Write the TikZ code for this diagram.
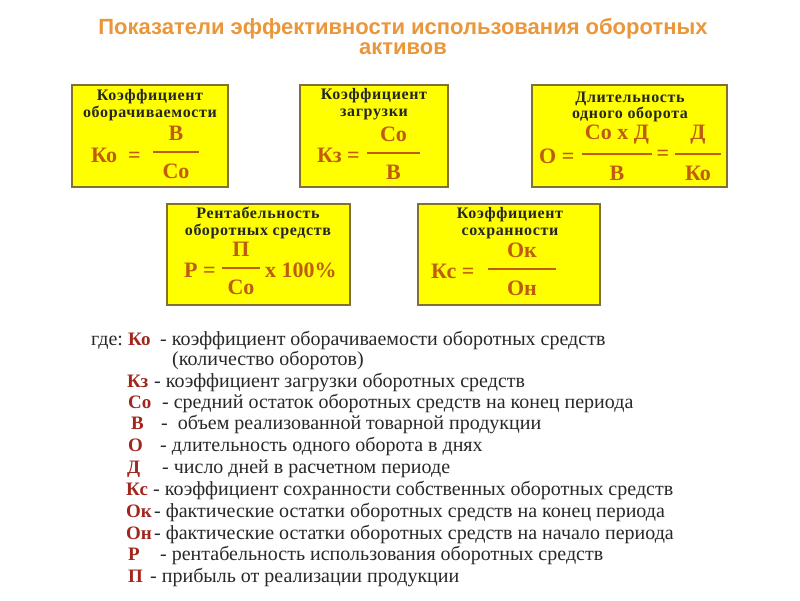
\documentclass[tikz,border=0pt]{standalone}
\usepackage{fontspec}
\setmainfont{Liberation Serif}
\newfontfamily\titlefont{Liberation Sans}
\newfontfamily\legendfont{Liberation Serif}
\newfontfamily\headfont[LetterSpace=4]{Liberation Serif}
\usetikzlibrary{positioning}
\definecolor{titleorange}{RGB}{234,150,58}
\definecolor{boxyellow}{RGB}{255,255,0}
\definecolor{boxedge}{RGB}{130,112,50}
\definecolor{formulabrown}{RGB}{192,92,14}
\definecolor{symred}{RGB}{160,38,30}
\definecolor{legendgray}{RGB}{40,40,40}
\tikzstyle{kbox}=[draw=boxedge,line width=1.4pt,fill=boxyellow]
\tikzstyle{khead}=[inner sep=0pt,align=center,font=\headfont\fontsize{16}{16.5}\selectfont\bfseries,text=black!85]
\tikzstyle{formula}=[inner sep=0pt,font=\rmfamily\fontsize{22}{24}\selectfont\bfseries,text=formulabrown]
\tikzstyle{fracbar}=[formulabrown,line width=1.1pt]
\tikzstyle{legsym}=[inner sep=0pt,anchor=base west,font=\legendfont\fontsize{19}{21}\selectfont\bfseries,text=symred]
\tikzstyle{legtext}=[inner sep=0pt,anchor=base west,font=\legendfont\fontsize{20}{21}\selectfont,text=legendgray]
\newcommand{\drawfrac}[6]{
% name, left x, right x, bar y, numerator, denominator
\pgfmathsetmacro{\xm}{(#2+#3)/2}
\coordinate (#1l) at (#2,#4);
\coordinate (#1r) at (#3,#4);
\draw[fracbar] (#1l) -- (#1r);
\node[formula] (#1n) at (\xm,#4-19) {#5};
\node[formula] (#1d) at (\xm,#4+19) {#6};
}
\begin{document}
\begin{tikzpicture}[x=1pt,y=-1pt]
\useasboundingbox (0,0) rectangle (800,600);
% title
\node[inner sep=0pt,align=center,text=titleorange,font=\titlefont\fontsize{22}{20}\selectfont\bfseries] (title) at (403,37) {Показатели эффективности использования оборотных\\активов};
% boxes, top row
\path[kbox] (72,85) rectangle (228,187) coordinate (kobox);
\path[kbox] (300,85) rectangle (448,187) coordinate (kzbox);
\path[kbox] (532,85) rectangle (727,187) coordinate (obox);
% boxes, bottom row
\path[kbox] (167,204) rectangle (350,305) coordinate (rbox);
\path[kbox] (418,204) rectangle (600,305) coordinate (kcbox);
% headings
\node[khead] (kohead) at (150,105) {Коэффициент\\оборачиваемости};
\node[khead] (kzhead) at (374,104) {Коэффициент\\загрузки};
\node[khead] (ohead) at (630,107) {Длительность\\одного оборота};
\node[khead] (rhead) at (258,223) {Рентабельность\\оборотных средств};
\node[khead] (kchead) at (510,223) {Коэффициент\\сохранности};
% formulas
\node[formula,anchor=west] (koeq) at (91,155) {Ко\ \ =};
\drawfrac{ko}{153}{199}{152}{В}{Со}
\node[formula,anchor=west] (kzeq) at (317,155) {Кз =};
\drawfrac{kz}{367}{420}{153}{Со}{В}
\node[formula,anchor=west] (oeq) at (539,156) {О =};
\drawfrac{oa}{582}{652}{154}{Со х Д}{В}
\node[formula] (oeqb) at (663,155) {=};
\drawfrac{ob}{675}{721}{154}{Д}{Ко}
\node[formula,anchor=west] (req) at (184,270) {Р =};
\drawfrac{r}{222}{260}{268}{П}{Со}
\node[formula,anchor=west] (rpct) at (265,270) {х 100\%};
\node[formula,anchor=west] (kceq) at (431,271) {Кс =};
\drawfrac{kc}{488}{556}{269}{Ок}{Он}
% legend, baselines
\node[legtext] (gde) at (91,345) {где:};
\node[legtext] (leg0) at (172,365) {(количество оборотов)};
\foreach \y/\sx/\s/\tx/\t [count=\i] in {
  345/128/Ко/160/- коэффициент оборачиваемости оборотных средств,
  387/127/Кз/154/- коэффициент загрузки оборотных средств,
  408/128/Со/162/- средний остаток оборотных средств на конец периода,
  429/131/В/161/-\ \ объем реализованной товарной продукции,
  451/128/О/160/- длительность одного оборота в днях,
  473/127/Д/162/- число дней в расчетном периоде,
  495/126/Кс/153/- коэффициент сохранности собственных оборотных средств,
  517/126/Ок/154/- фактические остатки оборотных средств на конец периода,
  539/126/Он/154/- фактические остатки оборотных средств на начало периода,
  560/128/Р/160/- рентабельность использования оборотных средств,
  582/128/П/150/- прибыль от реализации продукции} {
  \node[legsym] (sym\i) at (\sx,\y) {\s};
  \node[legtext] (leg\i) at (\tx,\y) {\t};
}
\end{tikzpicture}
\end{document}
